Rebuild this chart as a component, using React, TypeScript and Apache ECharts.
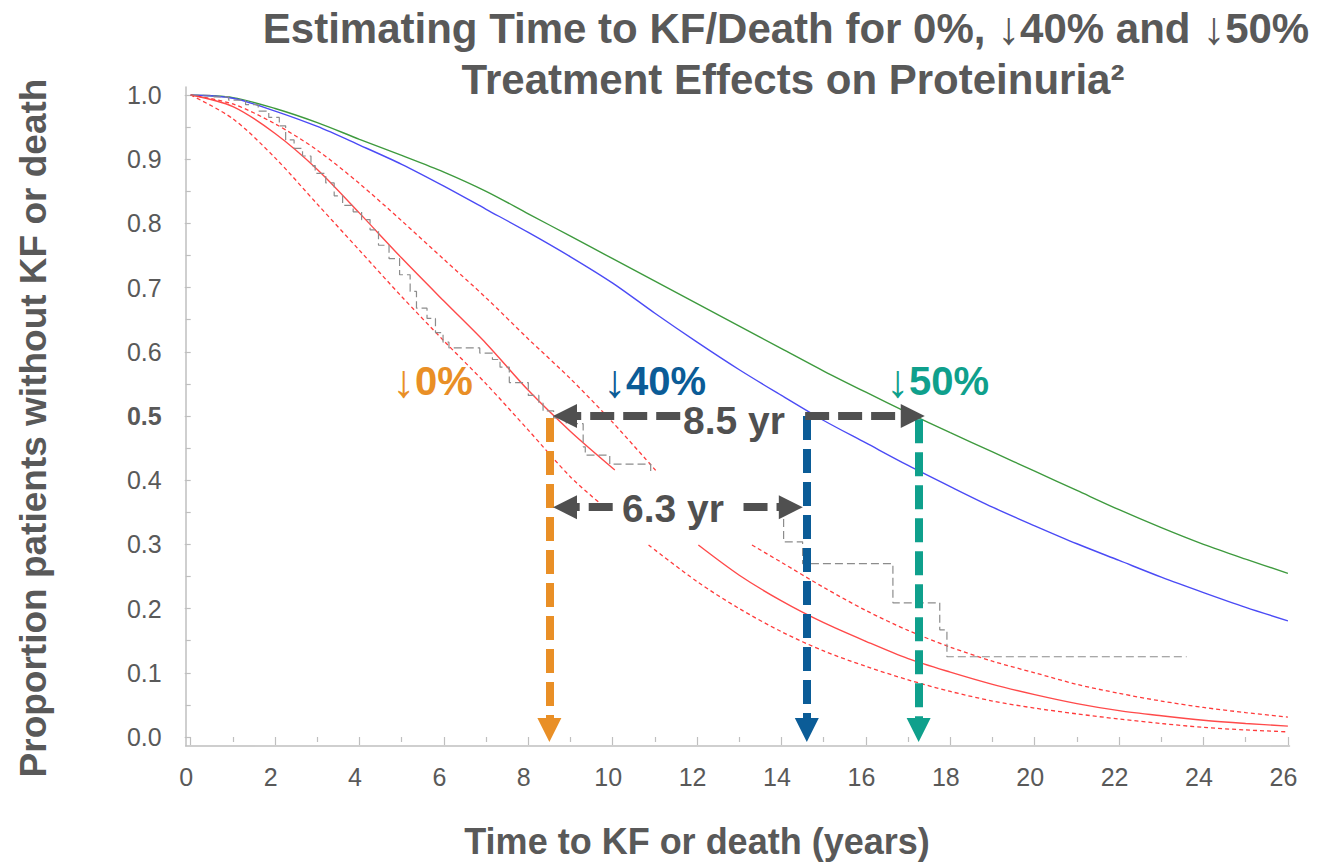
import React, { useEffect, useRef } from 'react';
import * as echarts from 'echarts';

// ---- Data ----
const yearsFull = [0, 1, 2, 3, 4, 5, 6, 7, 8, 9, 10, 11, 12, 13, 14, 15, 16, 17, 18, 19, 20, 21, 22, 23, 24, 25, 26];
// ↓50% treatment effect (green)
const green50 = [1.0, 0.996, 0.979, 0.957, 0.931, 0.906, 0.88, 0.85, 0.815, 0.78, 0.745, 0.71, 0.675, 0.64, 0.605, 0.57, 0.537, 0.505, 0.474, 0.444, 0.414, 0.384, 0.354, 0.326, 0.3, 0.277, 0.255];
// ↓40% treatment effect (blue)
const blue40 = [1.0, 0.995, 0.975, 0.951, 0.922, 0.892, 0.858, 0.822, 0.786, 0.748, 0.707, 0.66, 0.615, 0.572, 0.532, 0.493, 0.458, 0.423, 0.39, 0.358, 0.329, 0.301, 0.275, 0.249, 0.225, 0.202, 0.181];

// 0% effect (red) predicted curve, drawn in two pieces (gap behind the "6.3 yr" label)
const red0T_a = [0, 1, 2, 3, 4, 5, 6, 7, 8, 9, 10.05];
const red0V_a = [1.0, 0.982, 0.94, 0.884, 0.816, 0.746, 0.679, 0.613, 0.54, 0.476, 0.416];
const red0T_b = [12.03, 13, 14, 15, 16, 17, 18, 19, 20, 21, 22, 23, 24, 25, 26];
const red0V_b = [0.299, 0.252, 0.212, 0.178, 0.149, 0.122, 0.101, 0.082, 0.066, 0.052, 0.041, 0.033, 0.026, 0.021, 0.017];

// red upper confidence limit
const redUpT_a = [0, 1, 2, 3, 4, 5, 6, 7, 8, 9, 10, 11.05];
const redUpV_a = [1.0, 0.986, 0.955, 0.914, 0.862, 0.804, 0.744, 0.684, 0.62, 0.558, 0.49, 0.413];
const redUpT_b = [13.3, 14, 15, 16, 17, 18, 19, 20, 21, 22, 23, 24, 25, 26];
const redUpV_b = [0.299, 0.272, 0.233, 0.197, 0.166, 0.14, 0.118, 0.1, 0.082, 0.068, 0.056, 0.046, 0.038, 0.031];

// red lower confidence limit
const redLoT_a = [0, 1, 2, 3, 4, 5, 6, 7, 8, 9, 9.7];
const redLoV_a = [1.0, 0.963, 0.902, 0.83, 0.758, 0.686, 0.617, 0.55, 0.478, 0.405, 0.364];
const redLoT_b = [10.85, 12, 13, 14, 15, 16, 17, 18, 19, 20, 21, 22, 23, 24, 25, 26];
const redLoV_b = [0.299, 0.242, 0.2, 0.164, 0.134, 0.11, 0.089, 0.071, 0.056, 0.045, 0.036, 0.028, 0.021, 0.015, 0.011, 0.008];

// Kaplan-Meier observed (grey dashed step line)
const kmT_a = [0, 0.55, 0.9, 1.3, 1.6, 1.85, 2.1, 2.25, 2.45, 2.65, 2.85, 2.95, 3.2, 3.4, 3.6, 3.85, 4.05, 4.25, 4.45, 4.7, 4.95, 5.2, 5.35, 5.6, 5.8, 5.98, 6.12, 6.85, 7.15, 7.33, 7.55, 8.0, 8.25, 8.35, 8.6, 8.9, 9.3, 9.35, 9.93, 10.9];
const kmV_a = [1.0, 0.997, 0.992, 0.985, 0.975, 0.965, 0.952, 0.93, 0.917, 0.905, 0.89, 0.878, 0.863, 0.843, 0.828, 0.818, 0.806, 0.79, 0.766, 0.745, 0.72, 0.694, 0.668, 0.652, 0.63, 0.615, 0.606, 0.598, 0.588, 0.576, 0.552, 0.532, 0.52, 0.508, 0.497, 0.488, 0.452, 0.439, 0.425, 0.411];
const kmT_b = [14.0, 14.05, 14.5, 16.64, 17.75, 17.92, 23.6];
const kmV_b = [0.355, 0.304, 0.27, 0.209, 0.167, 0.125, 0.125];

// Medians & annotations
const median0 = 8.5;
const median40 = 14.6;
const median50 = 17.25;
const halfLevel = 0.5;
const gapLevel = 0.358;

const xTicks = { min: 0, max: 26, interval: 2 };
const yTicks = { min: 0, max: 1, interval: 0.1 };

const FONT = '"Liberation Sans", Arial, Helvetica, sans-serif';
const GREY_TXT = '#595959';
const DARK = '#505050';
const ORANGE = '#E98F26';
const BLUE_D = '#0B5C97';
const TEAL = '#0FA08C';

const zip = (t: number[], v: number[]) => t.map((x, i) => [x, v[i]]);

function curve(name: string, data: number[][], color: string, dashed: boolean) {
  return {
    name,
    type: 'line',
    data,
    showSymbol: false,
    symbol: 'none',
    smooth: 0.3,
    silent: true,
    lineStyle: { color, width: dashed ? 1.3 : 1.4, type: dashed ? [4, 3] : 'solid' },
    z: 2,
  };
}

function kmSeries(data: number[][]) {
  return {
    type: 'line',
    data,
    step: 'end',
    showSymbol: false,
    symbol: 'none',
    silent: true,
    lineStyle: { color: '#8c8c8c', width: 1.2, type: [8, 4] },
    z: 2,
  };
}

const arrowSym = { symbol: 'triangle', symbolSize: [24, 24] };

function seg(x1: number, y1: number, x2: number, y2: number, color: string, width: number, type: any, arrow: boolean) {
  return [
    { coord: [x1, y1], symbol: 'none', lineStyle: { color, width, type, cap: 'butt' } },
    arrow ? { coord: [x2, y2], ...arrowSym } : { coord: [x2, y2], symbol: 'none' },
  ];
}

function pctLabel(x: number, y: number, pct: string, color: string) {
  return {
    type: 'text',
    x,
    y,
    silent: true,
    style: {
      text: '{a|↓}{b|' + pct + '}',
      verticalAlign: 'middle',
      rich: {
        a: { fontSize: 46, fontFamily: FONT, fill: color, color, verticalAlign: 'middle' },
        b: { fontSize: 40, fontWeight: 'bold', fontFamily: FONT, fill: color, color, verticalAlign: 'middle' },
      },
    },
  };
}

const option: any = {
  animation: false,
  backgroundColor: '#ffffff',
  grid: [
    { left: 190.7, right: 33.1, top: 95, bottom: 125 },
    { left: 185.7, right: 31.5, top: 87, bottom: 116.3 },
  ],
  xAxis: [
    {
      type: 'value',
      gridIndex: 0,
      min: xTicks.min,
      max: xTicks.max,
      interval: xTicks.interval,
      offset: 8.7,
      axisLine: { show: false },
      axisTick: { show: true, length: 8, lineStyle: { color: '#bfbfbf', width: 1.2 } },
      minorTick: { show: true, splitNumber: 2, length: 5, lineStyle: { color: '#bfbfbf', width: 1.2 } },
      splitLine: { show: false },
      axisLabel: { color: GREY_TXT, fontSize: 25, fontFamily: FONT, margin: 19, padding: [0, 9, 0, 0] },
    },
    {
      type: 'value',
      gridIndex: 1,
      min: 0,
      max: 1,
      axisLine: { show: true, lineStyle: { color: '#bfbfbf', width: 1.5 } },
      axisTick: { show: false },
      axisLabel: { show: false },
      splitLine: { show: false },
    },
  ],
  yAxis: [
    {
      type: 'value',
      gridIndex: 0,
      min: yTicks.min,
      max: yTicks.max,
      interval: yTicks.interval,
      offset: 5,
      axisLine: { show: false },
      axisTick: { show: true, length: 6, lineStyle: { color: '#bfbfbf', width: 1.2 } },
      minorTick: { show: true, splitNumber: 2, length: 5, lineStyle: { color: '#bfbfbf', width: 1.2 } },
      splitLine: { show: false },
      axisLabel: {
        margin: 24,
        formatter: (v: number) => (Math.abs(v - 0.5) < 1e-6 ? '{b|0.5}' : '{n|' + v.toFixed(1) + '}'),
        rich: {
          n: { color: GREY_TXT, fontSize: 25, fontFamily: FONT },
          b: { color: GREY_TXT, fontSize: 25, fontFamily: FONT, fontWeight: 'bold' },
        },
      },
    },
    {
      type: 'value',
      gridIndex: 1,
      min: 0,
      max: 1,
      axisLine: { show: true, lineStyle: { color: '#bfbfbf', width: 1.5 } },
      axisTick: { show: false },
      axisLabel: { show: false },
      splitLine: { show: false },
    },
  ],
  series: [
    curve('green', zip(yearsFull, green50), '#3E9A3E', false),
    curve('blue', zip(yearsFull, blue40), '#4B4BF5', false),
    curve('red-a', zip(red0T_a, red0V_a), '#FF4A4A', false),
    curve('red-b', zip(red0T_b, red0V_b), '#FF4A4A', false),
    curve('redUp-a', zip(redUpT_a, redUpV_a), '#FF3B3B', true),
    curve('redUp-b', zip(redUpT_b, redUpV_b), '#FF3B3B', true),
    curve('redLo-a', zip(redLoT_a, redLoV_a), '#FF3B3B', true),
    curve('redLo-b', zip(redLoT_b, redLoV_b), '#FF3B3B', true),
    kmSeries(zip(kmT_a, kmV_a)),
    kmSeries(zip(kmT_b, kmV_b)),
    {
      type: 'line',
      data: [[26, 1]],
      symbol: 'none',
      showSymbol: false,
      lineStyle: { opacity: 0 },
      silent: true,
      clip: false,
      z: 5,
      markLine: {
        silent: true,
        animation: false,
        symbol: ['none', 'none'],
        label: { show: false },
        emphasis: { disabled: true },
        data: [
          // thin and dashed 50% reference line
          seg(-0.12, halfLevel, 26.05, halfLevel, '#7f7f7f', 1, 'solid', false),
          seg(-0.12, halfLevel, 8.6, halfLevel, '#7f7f7f', 4, [11, 4], false),
          seg(17.35, halfLevel, 26.05, halfLevel, '#7f7f7f', 4, [11, 4], false),
          // vertical arrows at the medians
          seg(median0, halfLevel - 0.003, median0, 0.011, ORANGE, 8, [24, 9], true),
          seg(median40, halfLevel, median40, 0.011, BLUE_D, 8, [24, 9], true),
          seg(median50, halfLevel - 0.005, median50, 0.011, TEAL, 8, [24, 9], true),
          // 8.5 yr double arrow
          seg(11.6, halfLevel, 8.87, halfLevel, DARK, 8, [24, 9], true),
          seg(14.56, halfLevel, 17.11, halfLevel, DARK, 8, [24, 9], true),
          // 6.3 yr double arrow
          seg(10.0, gapLevel, 8.87, gapLevel, DARK, 8, [24, 9], true),
          seg(13.1, gapLevel, 14.22, gapLevel, DARK, 8, [24, 9], true),
        ],
      },
    },
  ],
  graphic: [
    {
      type: 'text',
      x: 786,
      y: 28,
      silent: true,
      style: {
        text: '{t|Estimating Time to KF/Death for 0%, }{a|↓}{t|40% and }{a|↓}{t|50%}',
        align: 'center',
        verticalAlign: 'middle',
        rich: {
          t: { fontSize: 42, fontWeight: 'bold', fontFamily: FONT, fill: GREY_TXT, color: GREY_TXT, verticalAlign: 'middle' },
          a: { fontSize: 46, fontWeight: 'normal', fontFamily: FONT, fill: GREY_TXT, color: GREY_TXT, verticalAlign: 'middle' },
        },
      },
    },
    {
      type: 'text',
      x: 793,
      y: 79,
      silent: true,
      style: {
        text: 'Treatment Effects on Proteinuria²',
        align: 'center',
        verticalAlign: 'middle',
        fill: GREY_TXT,
        font: 'bold 42px ' + FONT,
      },
    },
    {
      type: 'text',
      x: 33,
      y: 428,
      rotation: Math.PI / 2,
      silent: true,
      style: {
        text: 'Proportion patients without KF or death',
        align: 'center',
        verticalAlign: 'middle',
        fill: GREY_TXT,
        font: 'bold 37px ' + FONT,
      },
    },
    {
      type: 'text',
      x: 697,
      y: 841,
      silent: true,
      style: {
        text: 'Time to KF or death (years)',
        align: 'center',
        verticalAlign: 'middle',
        fill: GREY_TXT,
        font: 'bold 36px ' + FONT,
      },
    },
    pctLabel(392, 381, '0%', ORANGE),
    pctLabel(603, 381, '40%', BLUE_D),
    pctLabel(886, 381, '50%', TEAL),
    {
      type: 'text',
      x: 734,
      y: 420,
      silent: true,
      style: {
        text: '8.5 yr',
        align: 'center',
        verticalAlign: 'middle',
        fill: DARK,
        font: 'bold 39px ' + FONT,
      },
    },
    {
      type: 'text',
      x: 673,
      y: 508,
      silent: true,
      style: {
        text: '6.3 yr',
        align: 'center',
        verticalAlign: 'middle',
        fill: DARK,
        font: 'bold 39px ' + FONT,
      },
    },
  ],
};

export default function App() {
  const ref = useRef<HTMLDivElement>(null);
  useEffect(() => {
    document.body.style.margin = '0';
    const chart = echarts.init(ref.current as HTMLDivElement, null, { renderer: 'svg' });
    chart.setOption(option);
    return () => {
      chart.dispose();
    };
  }, []);
  return <div ref={ref} style={{ width: 1321, height: 862, background: '#fff' }} />;
}
